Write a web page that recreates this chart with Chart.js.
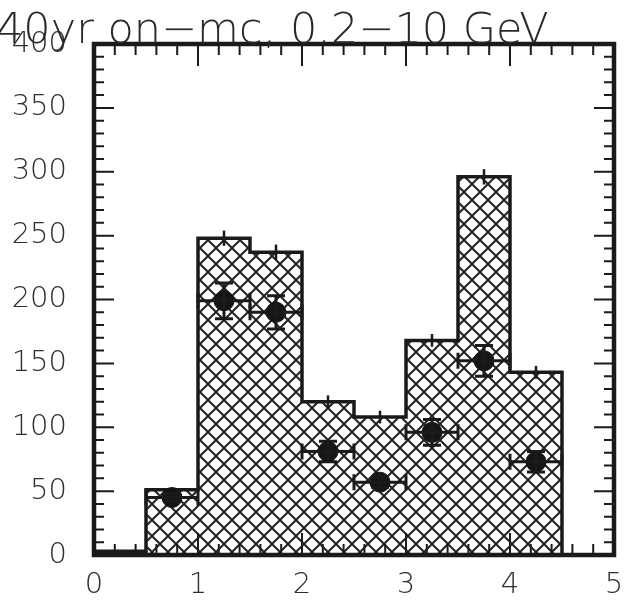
<!DOCTYPE html>
<html>
<head>
<meta charset="utf-8">
<script src="https://cdn.jsdelivr.net/npm/chart.js@4.4.1/dist/chart.umd.min.js"></script>
<style>
  html, body { margin: 0; padding: 0; background: #fff; }
  #wrap { width: 628px; height: 607px; }
</style>
</head>
<body>
<div id="wrap"><canvas id="c" width="628" height="607"></canvas></div>
<script>
// Histogram (MC), bins of width 0.5
const binEdges = [0, 0.5, 1, 1.5, 2, 2.5, 3, 3.5, 4, 4.5, 5];
const mcCounts = [3, 51, 248, 237, 120, 108, 168, 296, 143, 0];
const mcErrors = [0, 0, 6, 6, 5, 5, 5, 6, 5, 0];

// Data points at bin centres
const dataX = [0.75, 1.25, 1.75, 2.25, 2.75, 3.25, 3.75, 4.25];
const dataY = [45, 199, 190, 81, 57, 96, 152, 73];
const dataYErr = [3, 14, 13, 8, 4, 10, 12, 8];
const dataXErr = [0.25, 0.25, 0.25, 0.25, 0.25, 0.25, 0.25, 0.25];

// Axis tick values
const xTickStep = 1, xMinorStep = 0.2;
const yTickStep = 50, yMinorStep = 10;

const titleText = '40yr on\u2212mc, 0.2\u221210 GeV';
const ink = '#1a1a1a';
const labelColor = '#2e2e2e';
const labelFont = "'DejaVu Sans', sans-serif";

// Cross-hatch fill
function makeHatch() {
  const s = 16;
  const c = document.createElement('canvas');
  c.width = s; c.height = s;
  const g = c.getContext('2d');
  g.strokeStyle = '#222';
  g.lineWidth = 2;
  g.beginPath();
  for (const o of [-s, 0, s]) {
    g.moveTo(o, 0); g.lineTo(o + s, s);
    g.moveTo(o + s, 0); g.lineTo(o, s);
  }
  g.stroke();
  return g.createPattern(c, 'repeat');
}

const histPoints = binEdges.map((e, i) => ({ x: e, y: i < mcCounts.length ? mcCounts[i] : 0 }));
const dataPoints = dataX.map((x, i) => ({ x, y: dataY[i] }));

// Frame, inward ticks, error bars and heading
const decorations = {
  id: 'decorations',
  afterDatasetsDraw(chart) {
    const { ctx, chartArea: a, scales: { x, y } } = chart;
    ctx.save();
    ctx.strokeStyle = ink;
    ctx.lineCap = 'butt';

    // MC error bars
    ctx.lineWidth = 2.5;
    mcCounts.forEach((v, i) => {
      const e = mcErrors[i];
      if (!e) return;
      const cx = x.getPixelForValue((binEdges[i] + binEdges[i + 1]) / 2);
      ctx.beginPath();
      ctx.moveTo(cx, y.getPixelForValue(v - e));
      ctx.lineTo(cx, y.getPixelForValue(v + e));
      ctx.stroke();
    });

    // data error bars with caps
    ctx.lineWidth = 3;
    dataX.forEach((xv, i) => {
      const px = x.getPixelForValue(xv), py = y.getPixelForValue(dataY[i]);
      const x0 = x.getPixelForValue(xv - dataXErr[i]), x1 = x.getPixelForValue(xv + dataXErr[i]);
      const y0 = y.getPixelForValue(dataY[i] - dataYErr[i]), y1 = y.getPixelForValue(dataY[i] + dataYErr[i]);
      ctx.beginPath();
      ctx.moveTo(x0, py); ctx.lineTo(x1, py);
      ctx.moveTo(x0, py - 8); ctx.lineTo(x0, py + 8);
      ctx.moveTo(x1, py - 8); ctx.lineTo(x1, py + 8);
      ctx.moveTo(px, y0); ctx.lineTo(px, y1);
      ctx.moveTo(px - 9, y0); ctx.lineTo(px + 9, y0);
      ctx.moveTo(px - 9, y1); ctx.lineTo(px + 9, y1);
      ctx.stroke();
    });

    // inward ticks on all four sides
    ctx.lineWidth = 2;
    ctx.beginPath();
    for (let v = y.min; v <= y.max + 1e-9; v += yMinorStep) {
      const py = y.getPixelForValue(v);
      const major = Math.abs(v / yTickStep - Math.round(v / yTickStep)) < 1e-6;
      const len = major ? 20 : 10;
      ctx.moveTo(a.left, py); ctx.lineTo(a.left + len, py);
      ctx.moveTo(a.right, py); ctx.lineTo(a.right - len, py);
    }
    for (let v = x.min; v <= x.max + 1e-9; v += xMinorStep) {
      const px = x.getPixelForValue(v);
      const major = Math.abs(v / xTickStep - Math.round(v / xTickStep)) < 1e-6;
      const len = major ? 22 : 11;
      ctx.moveTo(px, a.top); ctx.lineTo(px, a.top + len);
      ctx.moveTo(px, a.bottom); ctx.lineTo(px, a.bottom - len);
    }
    ctx.stroke();

    // frame
    ctx.lineWidth = 4.5;
    ctx.strokeRect(a.left, a.top, a.right - a.left, a.bottom - a.top);

    // heading
    ctx.fillStyle = '#2a2a2a';
    ctx.font = "200 43px " + labelFont;
    ctx.textBaseline = 'alphabetic';
    ctx.textAlign = 'left';
    ctx.fillText(titleText, -4, 43);
    ctx.restore();
  }
};

const ctx = document.getElementById('c').getContext('2d');
new Chart(ctx, {
  type: 'scatter',
  data: {
    datasets: [
      {
        type: 'line',
        label: 'MC',
        data: histPoints,
        stepped: 'before',
        fill: 'origin',
        backgroundColor: makeHatch(),
        borderColor: ink,
        borderWidth: 3.5,
        pointRadius: 0,
        order: 2
      },
      {
        type: 'scatter',
        label: 'data',
        data: dataPoints,
        pointRadius: 10,
        pointBackgroundColor: '#151515',
        pointBorderColor: '#151515',
        order: 1
      }
    ]
  },
  options: {
    responsive: false,
    animation: false,
    devicePixelRatio: 1,
    layout: { padding: { top: 44, right: 14, left: 0, bottom: 0 } },
    plugins: { legend: { display: false }, tooltip: { enabled: false }, title: { display: false } },
    scales: {
      x: {
        type: 'linear', min: 0, max: 5,
        grid: { display: false, drawTicks: false },
        border: { display: false },
        ticks: { stepSize: xTickStep, color: labelColor, padding: 13, font: { family: labelFont, size: 29, weight: 200 } },
        afterFit(s) { s.height = 52; s.paddingLeft = 0; s.paddingRight = 0; }
      },
      y: {
        type: 'linear', min: 0, max: 400,
        grid: { display: false, drawTicks: false },
        border: { display: false },
        ticks: { stepSize: yTickStep, color: labelColor, padding: 27, font: { family: labelFont, size: 29, weight: 200 } },
        afterFit(s) { s.width = 94; s.paddingTop = 0; s.paddingBottom = 0; }
      }
    }
  },
  plugins: [decorations]
});
</script>
</body>
</html>
